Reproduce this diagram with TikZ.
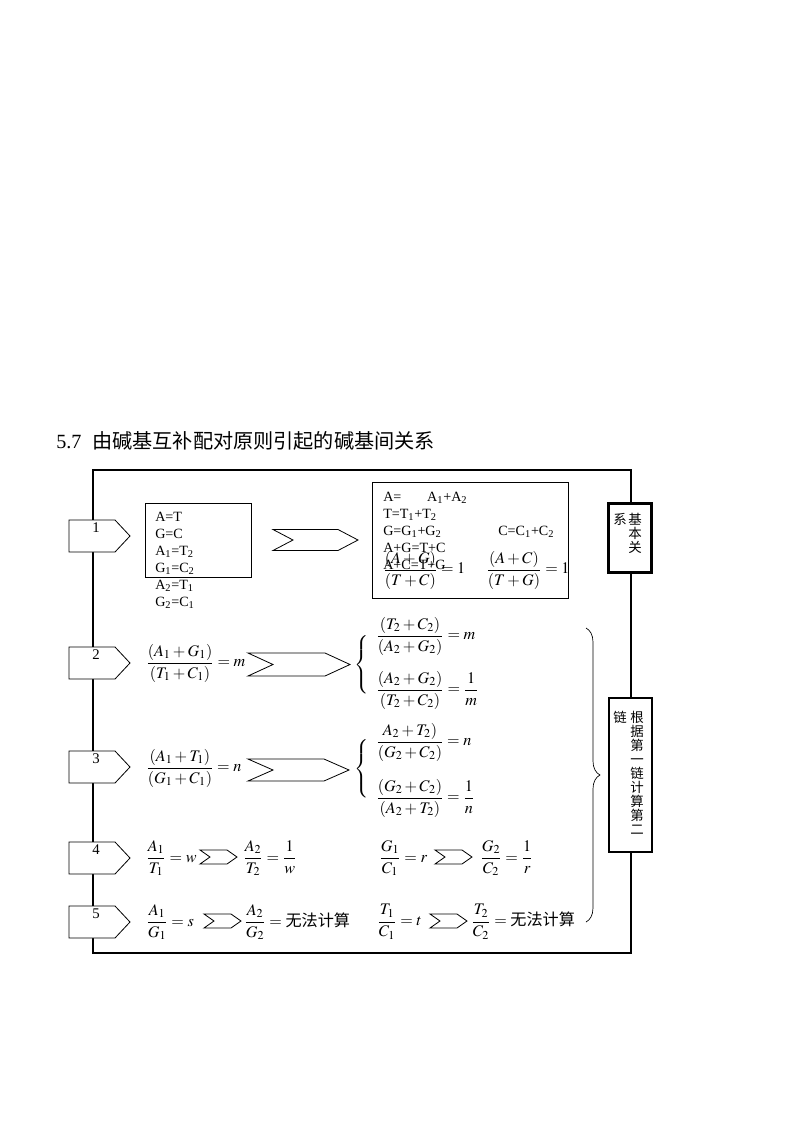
\documentclass[tikz,border=0pt]{standalone}
\usepackage{amsmath}
\usepackage{mathptmx}
\usepackage{fontspec}
\setmainfont{Liberation Serif}
\newfontfamily\cjk{Noto Sans CJK SC}
\usetikzlibrary{decorations.pathreplacing}

\tikzset{
  frame/.style={line width=1.6pt},
  tag/.style={draw,fill=white,line width=0.6pt},
  chev/.style={draw,line width=0.6pt},
  sidebox/.style={draw,fill=white,line width=1.6pt,inner sep=0pt},
  eq/.style={anchor=west,inner sep=0pt,font=\fontsize{12}{14}\selectfont},
  rel/.style={anchor=base west,inner sep=0pt,font=\fontsize{10.5}{12.6}\selectfont},
  vtext/.style={anchor=north,inner sep=0pt,align=center,font=\cjk\fontsize{10}{10.4}\selectfont}
}
\newcommand{\pairbrace}{$\left\{\rule[-19pt]{0pt}{38pt}\right.$}

\begin{document}
\begin{tikzpicture}[x=0.744pt,y=-0.744pt]
\useasboundingbox (0,0) rectangle (800,1132);

% title
\node[anchor=west,inner sep=0pt,font=\fontsize{15}{18}\selectfont] (title) at (56,441) {5.7\hspace{8pt}{\cjk 由碱基互补配对原则引起的碱基间关系}};

% outer frame
\draw[frame] (93,470) rectangle (631,953);

% numbered tags on the left
\foreach \n/\y in {1/536,2/663,3/767,4/858,5/922}{
  \draw[tag] (69,\y-16) -- (115,\y-16) -- (130,\y) -- (115,\y+16) -- (69,\y+16) -- cycle;
  \node[inner sep=0pt,font=\fontsize{11}{13}\selectfont] (tag\n) at (96,\y-8) {\n};
}

% chevrons: left x / right x / mid y / half height / depth
\foreach \a/\b/\y/\h/\d in {273/358/540/10.5/20, 248/350/664.5/11.5/25, 248/349/770/11/25,
    200/237/857/7/10, 435/472/857/7/10, 204/241/921/7/10, 430/467/921/7/10}{
  \draw[chev] (\a,\y-\h) -- (\b-\d,\y-\h) -- (\b,\y) -- (\b-\d,\y+\h) -- (\a,\y+\h) -- (\a+\d,\y) -- cycle;
}

% row 1
\node[draw,line width=0.6pt,minimum width=78.9pt,minimum height=55.1pt] (pairs) at (198,540) {};
\foreach \t [count=\i] in {A=T, G=C, A\textsubscript{1}=T\textsubscript{2}, G\textsubscript{1}=C\textsubscript{2},
    A\textsubscript{2}=T\textsubscript{1}, G\textsubscript{2}=C\textsubscript{1}}{
  \node[rel] (p\i) at (155,504+17*\i) {\t};
}
\node[draw,line width=0.6pt,minimum width=145.8pt,minimum height=86.3pt] (sums) at (470,540) {};
\node[rel] (s1) at (383,501) {\makebox[32.7pt][l]{A=}A\textsubscript{1}+A\textsubscript{2}};
\node[rel] (s2) at (383,518) {T=T\textsubscript{1}+T\textsubscript{2}};
\node[rel] (s3) at (383,535) {\makebox[85.6pt][l]{G=G\textsubscript{1}+G\textsubscript{2}}C=C\textsubscript{1}+C\textsubscript{2}};
\node[rel] (s4) at (383,552) {A+G=T+C};
\node[rel] (s5) at (383,569) {A+C=T+G};
\node[eq] (f1) at (383,570) {$\dfrac{(A+G)}{(T+C)}=1$};
\node[eq] (f2) at (486,570) {$\dfrac{(A+C)}{(T+G)}=1$};

% row 2
\node[eq] (r2a) at (146,663) {$\dfrac{(A_1+G_1)}{(T_1+C_1)}=m$};
\node[eq] (r2br) at (354,665) {\pairbrace};
\node[eq] (r2b) at (376,636) {$\dfrac{(T_2+C_2)}{(A_2+G_2)}=m$};
\node[eq] (r2c) at (376,690) {$\dfrac{(A_2+G_2)}{(T_2+C_2)}=\dfrac{1}{m}$};

% row 3
\node[eq] (r3a) at (146,768) {$\dfrac{(A_1+T_1)}{(G_1+C_1)}=n$};
\node[eq] (r3br) at (354,769) {\pairbrace};
\node[eq] (r3b) at (376,742) {$\dfrac{A_2+T_2)}{(G_2+C_2)}=n$};
\node[eq] (r3c) at (376,798) {$\dfrac{(G_2+C_2)}{(A_2+T_2)}=\dfrac{1}{n}$};

% row 4
\node[eq] (r4a) at (146,858) {$\dfrac{A_1}{T_1}=w$};
\node[eq] (r4b) at (243,858) {$\dfrac{A_2}{T_2}=\dfrac{1}{w}$};
\node[eq] (r4c) at (379,858) {$\dfrac{G_1}{C_1}=r$};
\node[eq] (r4d) at (480,858) {$\dfrac{G_2}{C_2}=\dfrac{1}{r}$};

% row 5
\node[eq] (r5a) at (146,922) {$\dfrac{A_1}{G_1}=s$};
\node[eq] (r5b) at (244,922) {$\dfrac{A_2}{G_2}=\text{\cjk 无法计算}$};
\node[eq] (r5c) at (377,922) {$\dfrac{T_1}{C_1}=t$};
\node[eq] (r5d) at (471,922) {$\dfrac{T_2}{C_2}=\text{\cjk 无法计算}$};

% right brace
\draw[line width=0.5pt,decorate,decoration={brace,amplitude=10.4pt}] (586,628) -- (586,922);

% side boxes on the frame
\node[sidebox,minimum width=32pt,minimum height=51.3pt] (basic) at (630,538) {};
\node[vtext] (basic1) at (635,513) {基\\本\\关};
\node[vtext] (basic2) at (620,513) {系};
\node[sidebox,minimum width=32pt,minimum height=114.6pt] (chain) at (630.5,775) {};
\node[vtext] (chain1) at (637,711) {根\\据\\第\\一\\链\\计\\算\\第\\二};
\node[vtext] (chain2) at (620,711) {链};
\end{tikzpicture}
\end{document}
